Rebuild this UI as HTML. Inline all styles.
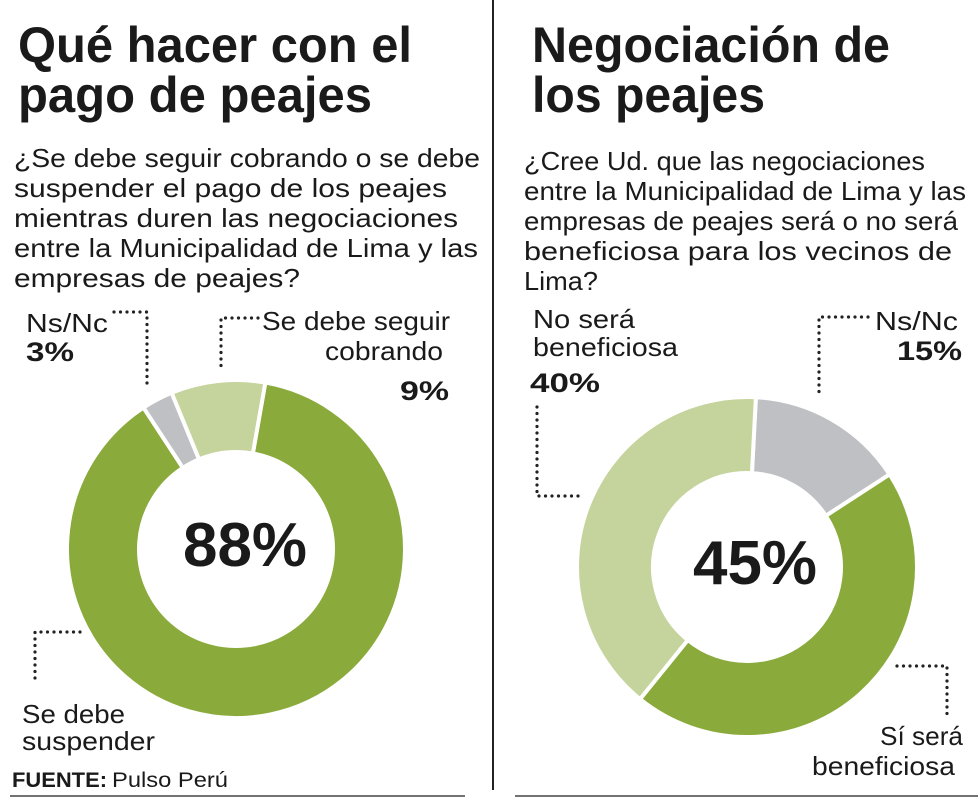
<!DOCTYPE html>
<html><head><meta charset="utf-8"><style>
body{margin:0;background:#fff;width:980px;height:800px;overflow:hidden;font-family:"Liberation Sans",sans-serif;color:#1a1a1a}
svg{position:absolute;left:0;top:0}
</style></head><body>
<div style="position:absolute;left:492px;top:0;width:2px;height:790px;background:#222"></div>
<svg id="c" width="980" height="800"></svg>
<script>
const leftLabels=["Se debe suspender","Ns/Nc","Se debe seguir cobrando"];
const leftValues=[88,3,9];
const rightLabels=["Ns/Nc","Sí será beneficiosa","No será beneficiosa"];
const rightValues=[15,45,40];
const NS="http://www.w3.org/2000/svg";
const svg=document.getElementById('c');
function mk(t,a,p){const e=document.createElementNS(NS,t);for(const k in a)e.setAttribute(k,a[k]);(p||svg).appendChild(e);return e;}
function pt(cx,cy,r,deg){const a=deg*Math.PI/180;return [cx+r*Math.sin(a),cy-r*Math.cos(a)];}
function donut(cx,cy,R,r,start,vals,cols,names){
  const tot=vals.reduce((a,b)=>a+b,0);let a0=start;
  vals.forEach((v,i)=>{const a1=a0+v/tot*360;const lg=(a1-a0)>180?1:0;
    const p1=pt(cx,cy,R,a0),p2=pt(cx,cy,R,a1),p3=pt(cx,cy,r,a1),p4=pt(cx,cy,r,a0);
    const el=mk('path',{d:`M${p1}A${R},${R} 0 ${lg} 1 ${p2}L${p3}A${r},${r} 0 ${lg} 0 ${p4}Z`,fill:cols[i],stroke:'#fff','stroke-width':4});
    
    
    a0=a1;});
}
donut(236,549,169,97,10,leftValues,['#8aab3c','#bfc0c4','#c5d39c'],['slice-suspender','slice-ns-nc-left','slice-cobrando']);
donut(747,567,170,94,3,rightValues,['#bfc0c4','#8aab3c','#c5d39c'],['slice-ns-nc-right','slice-si-beneficiosa','slice-no-beneficiosa']);
// txt(x1,x2,baseline,string,size,weight,name)
function txt(x1,x2,y,s,size,w,name){const e=mk('text',{x:x1,y:y,'font-size':size,'font-weight':w,fill:'#1a1a1a','font-family':'Liberation Sans, sans-serif',textLength:x2-x1,lengthAdjust:'spacingAndGlyphs'});e.textContent=s;
  
  return e;}
txt(18,412,62,'Qué hacer con el',50,'bold','left-title-1');
txt(18,372,112,'pago de peajes',50,'bold','left-title-2');
txt(532,890,62,'Negociación de',50,'bold','right-title-1');
txt(532,765,112,'los peajes',50,'bold','right-title-2');
const lq=[['¿Se debe seguir cobrando o se debe',480],['suspender el pago de los peajes',447],['mientras duren las negociaciones',458],['entre la Municipalidad de Lima y las',478],['empresas de peajes?',300]];
lq.forEach((l,i)=>txt(14,l[1],167+i*30,l[0],26,'normal','left-question-line'));
const rq=[['¿Cree Ud. que las negociaciones',925],['entre la Municipalidad de Lima y las',966],['empresas de peajes será o no será',958],['beneficiosa para los vecinos de',952],['Lima?',598]];
rq.forEach((l,i)=>txt(524,l[1],170+i*30,l[0],26,'normal','right-question-line'));
txt(183,307,566,leftValues[0]+'%',62,'bold','left-center-value');
txt(693,817,584,rightValues[1]+'%',62,'bold','right-center-value');
function dots(d,name){const e=mk('path',{d:d,fill:'none',stroke:'#222','stroke-width':3.2,'stroke-dasharray':'0 6.5','stroke-linecap':'round'});
  
  }
dots('M114 312H147V386','leader-ns-nc-left');
dots('M258 318H221V370','leader-cobrando');
dots('M80 632H35V680','leader-suspender');
dots('M537 407V496H582','leader-no-beneficiosa');
dots('M868 317H819V397','leader-ns-nc-right');
dots('M897 666H947V720','leader-si-beneficiosa');
txt(26,108,332,leftLabels[1],26,'normal','label-ns-nc-left');
txt(26,74,361,leftValues[1]+'%',27,'bold','value-ns-nc-left');
txt(262,450,330,'Se debe seguir',26,'normal','label-cobrando-1');
txt(325,443,360,'cobrando',26,'normal','label-cobrando-2');
txt(400,449,400,leftValues[2]+'%',27,'bold','value-cobrando');
txt(22,125,723,'Se debe',26,'normal','label-suspender-1');
txt(22,155,750,'suspender',26,'normal','label-suspender-2');
txt(533,635,328,'No será',26,'normal','label-no-1');
txt(533,678,356,'beneficiosa',26,'normal','label-no-2');
txt(530,600,392,rightValues[2]+'%',27,'bold','value-no-beneficiosa');
txt(875,958,330,rightLabels[0],26,'normal','label-ns-nc-right');
txt(897,962,360,rightValues[0]+'%',27,'bold','value-ns-nc-right');
txt(880,963,745,'Sí será',26,'normal','label-si-1');
txt(812,955,775,'beneficiosa',26,'normal','label-si-2');
txt(12,107,787,'FUENTE:',21,'bold','source-label');
txt(112,228,787,'Pulso Perú',21,'normal','source-name');
const l1=mk('line',{x1:10,y1:796,x2:465,y2:796,stroke:'#444','stroke-width':1.5});


const l2=mk('line',{x1:515,y1:796,x2:978,y2:796,stroke:'#444','stroke-width':1.5});


</script>
</body></html>
